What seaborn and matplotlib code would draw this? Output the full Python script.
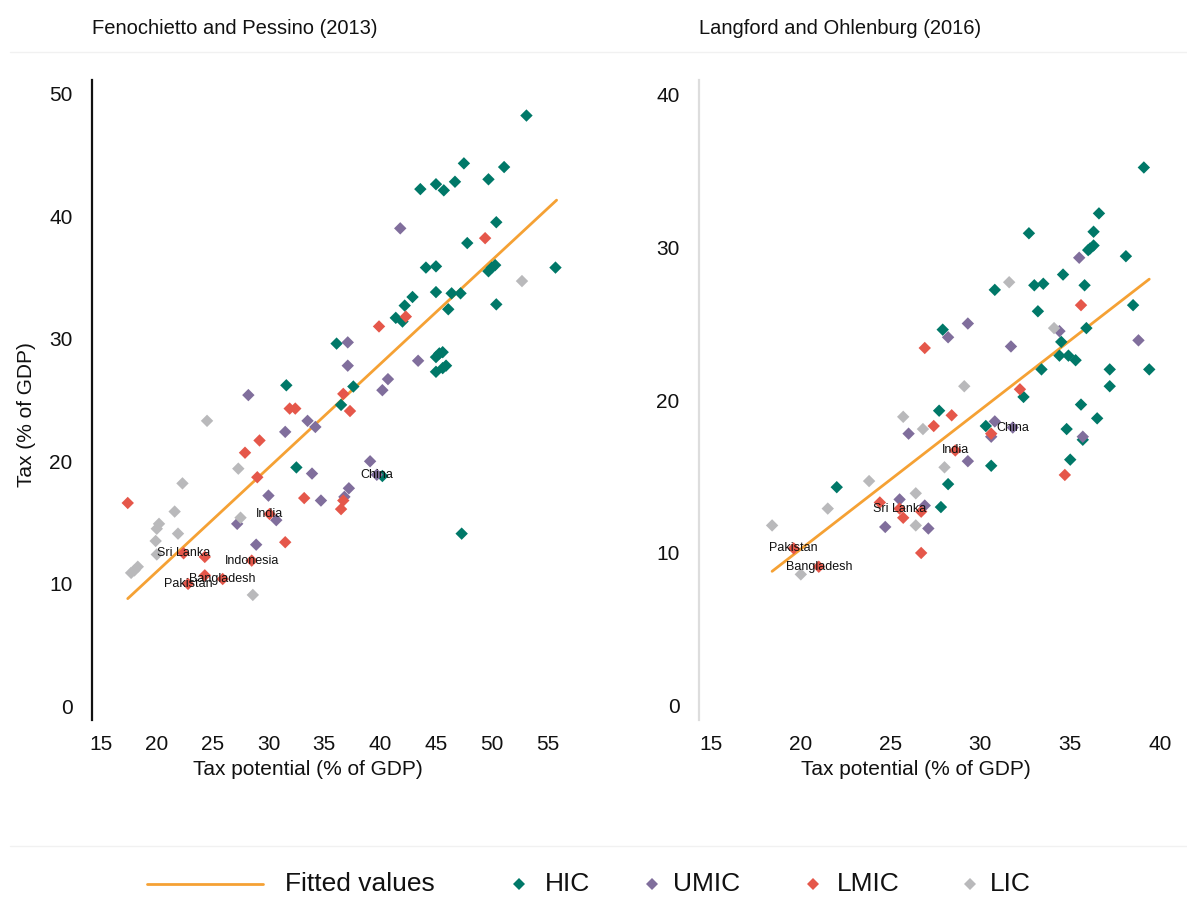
import matplotlib
matplotlib.use("Agg")
import matplotlib.pyplot as plt
from matplotlib.lines import Line2D
import numpy as np
import pandas as pd
import seaborn as sns

sns.set_theme(style="white")
plt.rcParams["font.family"] = ["Liberation Sans", "DejaVu Sans"]

# ---- Fenochietto and Pessino (2013): tax potential vs actual tax, % of GDP ----
fp_hic_x = [36.1, 31.6, 37.6, 53.1, 47.5, 51.1, 43.6, 45.0, 45.7, 46.7, 49.7, 50.4, 47.8,
            44.1, 45.0, 49.7, 50.0, 50.3, 55.7, 45.0, 46.4, 47.2, 50.4, 46.1, 42.9, 42.2,
            41.4, 42.0, 45.3, 45.6, 45.0, 45.0, 45.9, 45.6, 36.5, 32.5, 40.2, 47.3]
fp_hic_y = [29.6, 26.2, 26.1, 48.2, 44.3, 44.0, 42.2, 42.6, 42.1, 42.8, 43.0, 39.5, 37.8,
            35.8, 35.9, 35.5, 35.8, 36.0, 35.8, 33.8, 33.7, 33.7, 32.8, 32.4, 33.4, 32.7,
            31.7, 31.4, 28.8, 28.9, 28.5, 27.3, 27.8, 27.6, 24.6, 19.5, 18.8, 14.1]
fp_umic_x = [37.1, 37.1, 28.2, 40.2, 40.7, 41.8, 43.4, 33.5, 34.2, 31.5, 33.9, 39.1, 39.7,
             30.0, 34.7, 37.2, 36.8, 27.2, 30.7, 28.9]
fp_umic_y = [29.7, 27.8, 25.4, 25.8, 26.7, 39.0, 28.2, 23.3, 22.8, 22.4, 19.0, 20.0, 18.9,
             17.2, 16.8, 17.8, 17.1, 14.9, 15.2, 13.2]
fp_lmic_x = [39.9, 36.7, 42.3, 49.4, 37.3, 31.9, 32.4, 29.2, 27.9, 29.0, 33.2, 36.7, 36.5,
             17.4, 30.1, 31.5, 22.4, 24.3, 28.5, 25.9, 24.3, 22.8]
fp_lmic_y = [31.0, 25.5, 31.8, 38.2, 24.1, 24.3, 24.3, 21.7, 20.7, 18.7, 17.0, 16.8, 16.1,
             16.6, 15.7, 13.4, 12.5, 12.2, 11.9, 10.4, 10.7, 10.0]
fp_lic_x = [52.7, 24.5, 27.3, 22.3, 21.6, 20.2, 20.0, 21.9, 19.9, 27.5, 20.0, 18.3, 17.7,
            18.0, 28.6]
fp_lic_y = [34.7, 23.3, 19.4, 18.2, 15.9, 14.9, 14.5, 14.1, 13.5, 15.4, 12.4, 11.4, 10.9,
            11.1, 9.1]
fp_fit_x = [17.4, 55.8]
fp_fit_y = [8.8, 41.3]
fp_names = ["China", "India", "Sri Lanka", "Indonesia", "Bangladesh", "Pakistan"]
fp_name_x = [39.7, 30.1, 22.4, 28.5, 25.9, 22.8]
fp_name_y = [18.9, 15.7, 12.5, 11.9, 10.4, 10.0]

# ---- Langford and Ohlenburg (2016) ----
lo_hic_x = [39.1, 36.6, 36.3, 32.7, 36.0, 36.3, 36.1, 38.1, 30.8, 33.0, 33.5, 34.6, 35.8,
            38.5, 33.2, 27.9, 35.9, 34.5, 34.4, 34.9, 35.3, 33.4, 37.2, 39.4, 37.2, 32.4,
            35.6, 27.7, 36.5, 34.8, 30.3, 35.7, 35.0, 30.6, 28.2, 27.8, 22.0]
lo_hic_y = [35.2, 32.2, 31.0, 30.9, 29.8, 30.1, 29.9, 29.4, 27.2, 27.5, 27.6, 28.2, 27.5,
            26.2, 25.8, 24.6, 24.7, 23.8, 22.9, 22.9, 22.6, 22.0, 22.0, 22.0, 20.9, 20.2,
            19.7, 19.3, 18.8, 18.1, 18.3, 17.4, 16.1, 15.7, 14.5, 13.0, 14.3]
lo_umic_x = [35.5, 28.2, 29.3, 31.7, 34.4, 38.8, 26.0, 35.7, 30.8, 30.6, 31.8, 29.3, 26.9,
             27.1, 25.5, 24.7]
lo_umic_y = [29.3, 24.1, 25.0, 23.5, 24.5, 23.9, 17.8, 17.6, 18.6, 17.6, 18.2, 16.0, 13.1,
             11.6, 13.5, 11.7]
lo_lmic_x = [35.6, 26.9, 32.2, 28.4, 27.4, 30.6, 34.7, 28.6, 26.7, 25.7, 26.7, 24.4, 25.5,
             19.6, 21.0]
lo_lmic_y = [26.2, 23.4, 20.7, 19.0, 18.3, 17.8, 15.1, 16.7, 12.7, 12.3, 10.0, 13.3, 12.9,
             10.3, 9.1]
lo_lic_x = [31.6, 34.1, 29.1, 25.7, 26.8, 28.0, 26.4, 26.4, 23.8, 21.5, 18.4, 20.0]
lo_lic_y = [27.7, 24.7, 20.9, 18.9, 18.1, 15.6, 13.9, 11.8, 14.7, 12.9, 11.8, 8.6]
lo_fit_x = [18.4, 39.4]
lo_fit_y = [8.8, 27.9]
lo_names = ["China", "India", "Sri Lanka", "Pakistan", "Bangladesh"]
lo_name_x = [31.8, 28.6, 25.5, 19.6, 21.0]
lo_name_y = [18.2, 16.7, 12.9, 10.3, 9.1]

groups = ["HIC", "UMIC", "LMIC", "LIC"]
palette = {"HIC": "#007868", "UMIC": "#806e9c", "LMIC": "#e5574a", "LIC": "#b9b9bb"}
fit_color = "#f5a134"

W, H = 1187, 897
fig = plt.figure(figsize=(W / 100, H / 100), dpi=100)
fig.patch.set_facecolor("white")


def frame(xs, ys):
    parts = []
    for g, (gx, gy) in zip(groups, zip(xs, ys)):
        parts.append(pd.DataFrame({"x": gx, "y": gy, "group": g}))
    return pd.concat(parts, ignore_index=True)


panels = [
    dict(rect=[92 / W, 1 - 720 / H, 478 / W, 640 / H],
         xlim=(14.2, 57.0), ylim=(-1.1, 51.1),
         xticks=[15, 20, 25, 30, 35, 40, 45, 50, 55], yticks=[0, 10, 20, 30, 40, 50],
         data=frame([fp_hic_x, fp_umic_x, fp_lmic_x, fp_lic_x],
                    [fp_hic_y, fp_umic_y, fp_lmic_y, fp_lic_y]),
         fit=(fp_fit_x, fp_fit_y), names=(fp_names, fp_name_x, fp_name_y),
         title="Fenochietto and Pessino (2013)", spine="#111111", xlab_x=0.452),
    dict(rect=[699 / W, 1 - 720 / H, 470 / W, 640 / H],
         xlim=(14.33, 40.5), ylim=(-0.92, 40.92),
         xticks=[15, 20, 25, 30, 35, 40], yticks=[0, 10, 20, 30, 40],
         data=frame([lo_hic_x, lo_umic_x, lo_lmic_x, lo_lic_x],
                    [lo_hic_y, lo_umic_y, lo_lmic_y, lo_lic_y]),
         fit=(lo_fit_x, lo_fit_y), names=(lo_names, lo_name_x, lo_name_y),
         title="Langford and Ohlenburg (2016)", spine="#dddddd", xlab_x=0.462),
]

for i, p in enumerate(panels):
    ax = fig.add_axes(p["rect"])
    ax.set_facecolor("white")
    sns.lineplot(x=p["fit"][0], y=p["fit"][1], color=fit_color, linewidth=2.0,
                 ax=ax, zorder=1)
    sns.scatterplot(data=p["data"], x="x", y="y", hue="group", hue_order=groups,
                    palette=palette, marker="D", s=40, linewidth=0, legend=False,
                    ax=ax, zorder=2)
    for name, nx, ny in zip(*p["names"]):
        ax.text(nx, ny, name, ha="center", va="center", fontsize=9,
                color="#111111", zorder=3)
    ax.set_xlim(*p["xlim"])
    ax.set_ylim(*p["ylim"])
    ax.set_xticks(p["xticks"])
    ax.set_yticks(p["yticks"])
    ax.tick_params(axis="both", length=0, labelsize=15, colors="#111111")
    ax.tick_params(axis="y", pad=14)
    ax.tick_params(axis="x", pad=11)
    for side in ["top", "right", "bottom"]:
        ax.spines[side].set_visible(False)
    ax.spines["left"].set_color(p["spine"])
    ax.spines["left"].set_linewidth(1.6)
    ax.grid(False)
    ax.set_xlabel("Tax potential (% of GDP)", fontsize=15, color="#111111")
    ax.xaxis.set_label_coords(p["xlab_x"], -0.062)
    if i == 0:
        ax.set_ylabel("Tax (% of GDP)", fontsize=15, color="#111111")
        ax.yaxis.set_label_coords(-0.118, 0.477)
    else:
        ax.set_ylabel("")
    fig.text(p["rect"][0], 1 - 28 / H, p["title"], ha="left", va="center",
             fontsize=14.5, color="#111111")

# faint separators above the panels and above the legend
fig.add_artist(Line2D([10 / W, 1.0], [1 - 52 / H, 1 - 52 / H], color="#f1f1f1", lw=1))
fig.add_artist(Line2D([10 / W, 1.0], [1 - 846 / H, 1 - 846 / H], color="#f1f1f1", lw=1))

# legend row
ly = 1 - 884 / H
fig.add_artist(Line2D([147 / W, 263 / W], [ly, ly], color=fit_color, lw=2.0))
fig.text(285 / W, ly, "Fitted values", ha="left", va="center", fontsize=19, color="#111111")
for g, mx, tx in zip(groups, [519, 652, 813, 970], [545, 673, 837, 990]):
    fig.add_artist(Line2D([mx / W], [ly], marker="D", markersize=6.5, linestyle="none",
                          markerfacecolor=palette[g], markeredgewidth=0))
    fig.text(tx / W, ly, g, ha="left", va="center", fontsize=19, color="#111111")

fig.savefig("out.png", dpi=100, facecolor="white")
